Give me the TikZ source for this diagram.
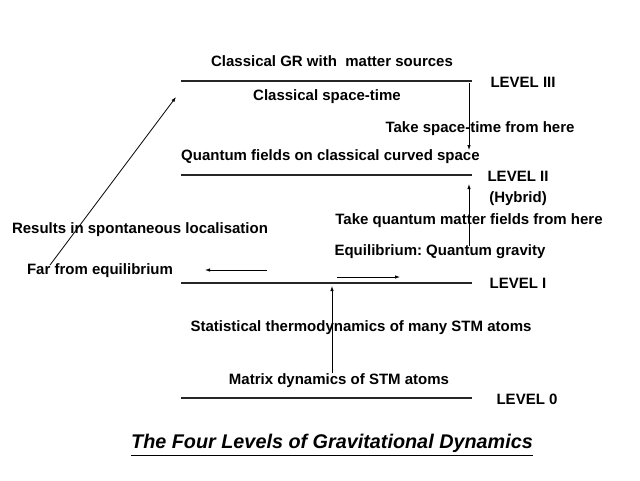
\documentclass[tikz,border=0pt]{standalone}
\usepackage{fontspec}
\setmainfont{Liberation Sans}
\usetikzlibrary{arrows.meta}
\frenchspacing
\begin{document}
\begin{tikzpicture}[x=1pt,y=-1pt,
  lbl/.style={font=\fontsize{15}{17}\selectfont\bfseries, inner sep=0pt},
  lvl/.style={line width=2.3pt, draw=black!85},
  arr/.style={-{Latex[length=5pt,width=3.5pt]}, line width=0.8pt}]
\useasboundingbox (0,0) rectangle (640,480);
% level lines
\coordinate (l3a) at (181,81); \coordinate (l3b) at (472,81);
\coordinate (l2a) at (181,175); \coordinate (l2b) at (472,175);
\coordinate (l1a) at (181,283); \coordinate (l1b) at (472,283);
\coordinate (l0a) at (181,398); \coordinate (l0b) at (472,398);
\draw[lvl] (l3a) -- (l3b);
\draw[lvl] (l2a) -- (l2b);
\draw[lvl] (l1a) -- (l1b);
\draw[lvl] (l0a) -- (l0b);
% labels
\node[lbl] (L3) at (523,82) {LEVEL III};
\node[lbl] (L2) at (518,176) {LEVEL II};
\node[lbl] (hyb) at (518,199) {(Hybrid)};
\node[lbl] (L1) at (518,283) {LEVEL I};
\node[lbl] (L0) at (527,399) {LEVEL 0};
\node[lbl] (gr) at (332,61) {Classical GR with\ \ matter sources};
\node[lbl] (cst) at (327,97) {Classical space-time};
\node[lbl] (take1) at (480,129) {Take space-time from here};
\node[lbl, anchor=west] (qf) at (181,157) {Quantum fields on classical curved space};
\node[lbl] (take2) at (469,221) {Take quantum matter fields from here};
\node[lbl] (eq) at (440,252) {Equilibrium: Quantum gravity};
\node[lbl] (res) at (140,230) {Results in spontaneous localisation};
\node[lbl] (far) at (100,271) {Far from equilibrium};
\node[lbl] (stat) at (361,328) {Statistical thermodynamics of many STM atoms};
\node[lbl] (mat) at (339,381) {Matrix dynamics of STM atoms};
\node[font=\fontsize{19.8}{22}\selectfont\bfseries\itshape, inner sep=0pt] (title) at (332,443) {The Four Levels of Gravitational Dynamics};
\draw[line width=1.5pt] ([yshift=-3pt]title.south west) -- ([yshift=-3pt]title.south east);
% arrows
\coordinate (d1s) at (469,83); \coordinate (d1e) at (469,150);
\draw[arr] (d1s) -- (d1e);
\coordinate (u2s) at (469,246); \coordinate (u2e) at (469,184);
\draw[arr] (u2s) -- (u2e);
\coordinate (las) at (267,270); \coordinate (lae) at (205,270);
\draw[arr] (las) -- (lae);
\coordinate (ras) at (337,277); \coordinate (rae) at (400,277);
\draw[arr] (ras) -- (rae);
\coordinate (dgs) at (50,265); \coordinate (dge) at (176,97);
\draw[arr] (dgs) -- (dge);
\coordinate (u0s) at (332,373); \coordinate (u0e) at (332,286);
\draw[arr] (u0s) -- (u0e);
\end{tikzpicture}
\end{document}
